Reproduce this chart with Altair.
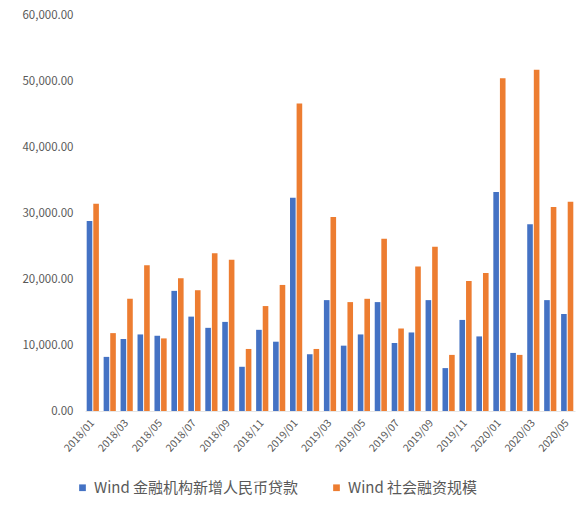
import altair as alt
import pandas as pd

months = [
    "2018/01", "2018/02", "2018/03", "2018/04", "2018/05", "2018/06",
    "2018/07", "2018/08", "2018/09", "2018/10", "2018/11", "2018/12",
    "2019/01", "2019/02", "2019/03", "2019/04", "2019/05", "2019/06",
    "2019/07", "2019/08", "2019/09", "2019/10", "2019/11", "2019/12",
    "2020/01", "2020/02", "2020/03", "2020/04", "2020/05",
]
new_loans = [
    28800, 8200, 10900, 11600, 11400, 18200,
    14300, 12600, 13500, 6700, 12300, 10500,
    32300, 8600, 16800, 9900, 11600, 16500,
    10300, 11900, 16800, 6500, 13800, 11300,
    33200, 8800, 28300, 16800, 14700,
]
social_financing = [
    31400, 11800, 17000, 22100, 11000, 20100,
    18300, 23900, 22900, 9400, 15900, 19100,
    46600, 9400, 29400, 16500, 17000, 26100,
    12500, 21900, 24900, 8500, 19700, 20900,
    50400, 8500, 51700, 30900, 31700,
]
series_names = ["Wind 金融机构新增人民币贷款", "Wind 社会融资规模"]
series_colors = ["#4472C4", "#ED7D31"]

rows = []
for i, m in enumerate(months):
    rows.append({"month": m, "series": series_names[0], "value": new_loans[i]})
    rows.append({"month": m, "series": series_names[1], "value": social_financing[i]})
df = pd.DataFrame(rows)

font = "Noto Sans CJK SC"

chart = (
    alt.Chart(df)
    .mark_bar()
    .encode(
        x=alt.X(
            "month:N",
            sort=months,
            scale=alt.Scale(paddingInner=0.28, paddingOuter=0.1),
            axis=alt.Axis(
                title=None,
                labelAngle=-48,
                labelExpr="toNumber(slice(datum.value, 5)) % 2 == 1 ? datum.value : ''",
                labelFontSize=10.5,
                labelColor="#595959",
                labelFont=font,
                ticks=False,
                domainColor="#e6e6e6",
                labelPadding=10,
            ),
        ),
        xOffset=alt.XOffset("series:N", sort=series_names,
                            scale=alt.Scale(paddingInner=0.15)),
        y=alt.Y(
            "value:Q",
            scale=alt.Scale(domain=[0, 60000]),
            axis=alt.Axis(
                title=None,
                values=[0, 10000, 20000, 30000, 40000, 50000, 60000],
                format=",.2f",
                grid=False,
                domain=False,
                ticks=False,
                labelFontSize=11.5,
                labelColor="#595959",
                labelFont=font,
                labelPadding=12,
            ),
        ),
        color=alt.Color(
            "series:N",
            sort=series_names,
            scale=alt.Scale(domain=series_names, range=series_colors),
            legend=alt.Legend(
                title=None,
                orient="none",
                legendX=-10,
                legendY=465,
                direction="horizontal",
                symbolType="square",
                symbolSize=45,
                labelFontSize=15,
                labelColor="#595959",
                labelFont=font,
                labelLimit=400,
                columnPadding=30,
            ),
        ),
    )
    .properties(
        width=490,
        height=396,
        padding={"left": 85, "top": 15, "right": 1, "bottom": 98},
        autosize=alt.AutoSizeParams(type="none"),
    )
    .configure_view(stroke=None)
)

chart.save("out.html", embed_options={"renderer": "svg", "actions": False})
